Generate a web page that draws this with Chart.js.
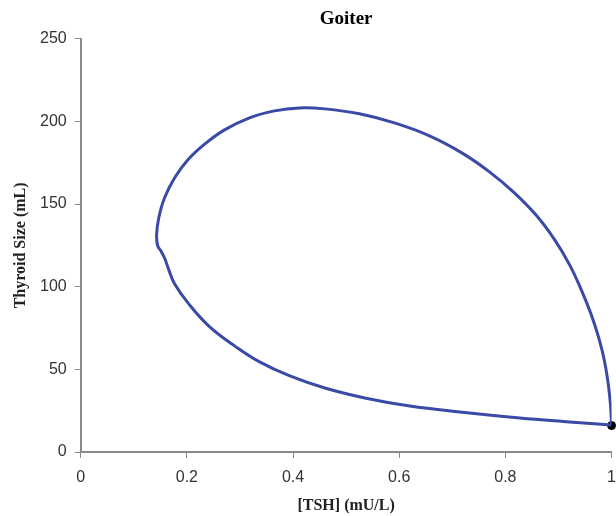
<!DOCTYPE html>
<html>
<head>
<meta charset="utf-8">
<script src="https://cdn.jsdelivr.net/npm/chart.js@4/dist/chart.umd.min.js"></script>
<style>
  html, body { margin: 0; padding: 0; background: #fff; overflow: hidden; }
  #wrap { width: 628px; height: 516px; }
</style>
</head>
<body>
<div id="wrap"><canvas id="c"></canvas></div>
<script>
// loop, starting at the black dot and going up the right side
const tshValues = [1.0, 0.998, 0.994, 0.987, 0.977, 0.962, 0.943, 0.921, 0.893, 0.859, 0.817, 0.770, 0.718,
  0.657, 0.591, 0.525, 0.460, 0.412, 0.365, 0.318, 0.271, 0.234, 0.202, 0.177, 0.158, 0.147, 0.143, 0.145,
  0.151, 0.158, 0.166, 0.177, 0.205, 0.243, 0.290, 0.337, 0.394, 0.460, 0.535, 0.620, 0.714, 0.827, 0.921, 1.0];
const sizeValues = [16.3, 28.5, 40.6, 54.5, 67.8, 82.9, 98.1, 113.2, 128.3, 142.9, 156.8, 169.5, 181.0,
  191.3, 199.1, 204.6, 207.6, 208.2, 206.4, 202.2, 194.9, 186.4, 176.8, 165.9, 153.8, 141.6, 131.4, 124.7,
  121.7, 117.4, 110.2, 101.7, 89.0, 75.7, 64.2, 54.5, 46.0, 38.7, 32.7, 27.8, 24.2, 20.6, 18.2, 16.3];
const startTsh = [1.0];
const startSize = [16];
const xTicks = [0, 0.2, 0.4, 0.6, 0.8, 1];
const yTicks = [0, 50, 100, 150, 200, 250];

const loop = tshValues.map((x, i) => ({ x: x, y: sizeValues[i] }));
const start = startTsh.map((x, i) => ({ x: x, y: startSize[i] }));

const axisGrey = '#8a8a8a';
const tickFont = { family: 'Liberation Sans', size: 16, lineHeight: 1 };
const titleFont = { family: 'Liberation Serif', size: 16, weight: 'bold', lineHeight: 1 };

new Chart(document.getElementById('c'), {
  type: 'scatter',
  data: {
    datasets: [
      {
        data: loop,
        showLine: true,
        borderColor: '#3a4aa6',
        borderWidth: 3,
        pointRadius: 0,
        tension: 0.4,
        fill: false
      },
      {
        data: start,
        pointRadius: 4,
        pointBackgroundColor: '#000',
        pointBorderColor: '#000',
        clip: false
      }
    ]
  },
  options: {
    responsive: true,
    maintainAspectRatio: false,
    animation: false,
    layout: { padding: { left: 9, right: 7, bottom: 0 } },
    plugins: {
      legend: { display: false },
      tooltip: { enabled: false },
      title: {
        display: true,
        fullSize: false,
        text: 'Goiter',
        color: '#000',
        font: { family: 'Liberation Serif', size: 19, weight: 'bold' },
        padding: { top: 8, bottom: 8 }
      }
    },
    scales: {
      x: {
        type: 'linear',
        min: 0, max: 1,
        afterBuildTicks: axis => { axis.ticks = xTicks.map(v => ({ value: v })); },
        grid: { drawOnChartArea: false, drawTicks: true, tickLength: 6, color: axisGrey },
        border: { color: axisGrey, width: 2 },
        ticks: { color: '#333', font: tickFont, padding: 12, callback: v => String(v) },
        title: { display: true, text: '[TSH] (mU/L)', color: '#222', font: titleFont, padding: { top: 0, bottom: 2 } }
      },
      y: {
        type: 'linear',
        min: 0, max: 250,
        afterBuildTicks: axis => { axis.ticks = yTicks.map(v => ({ value: v })); },
        grid: { drawOnChartArea: false, drawTicks: true, tickLength: 6, color: axisGrey },
        border: { color: axisGrey, width: 2 },
        ticks: { color: '#333', font: tickFont, padding: 8 },
        title: { display: true, text: 'Thyroid Size (mL)', color: '#222', font: titleFont, padding: { bottom: 3 } }
      }
    }
  }
});
</script>
</body>
</html>
